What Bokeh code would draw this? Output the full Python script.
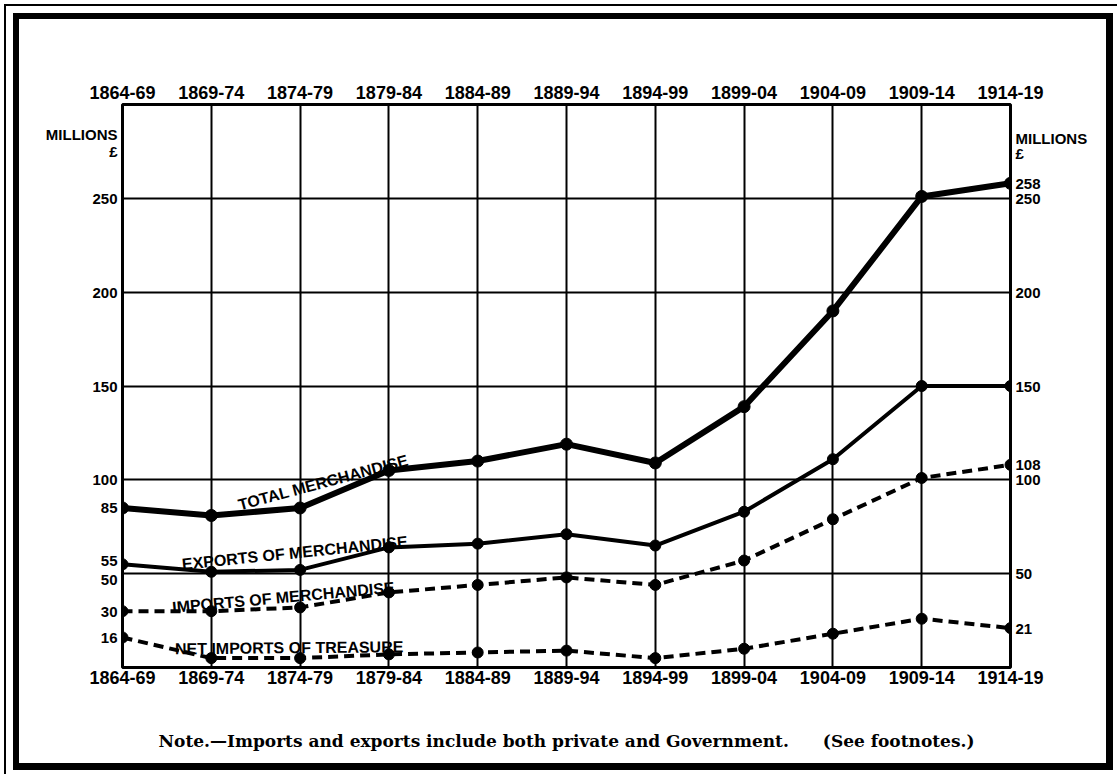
from bokeh.plotting import figure
from bokeh.models import Range1d, LinearAxis, FixedTicker, Label, ColumnDataSource
from bokeh.embed import file_html
from bokeh.resources import INLINE

periods = ["1864-69", "1869-74", "1874-79", "1879-84", "1884-89", "1889-94",
           "1894-99", "1899-04", "1904-09", "1909-14", "1914-19"]
total_merch = [85, 81, 85, 105, 110, 119, 109, 139, 190, 251, 258]
exports_merch = [55, 51, 52, 64, 66, 71, 65, 83, 111, 150, 150]
imports_merch = [30, 30, 32, 40, 44, 48, 44, 57, 79, 101, 108]
net_treasure = [16, 5, 5, 7, 8, 9, 5, 10, 18, 26, 21]
grid_values = [50, 100, 150, 200, 250]
# left scale: value labels (50 and 55 are printed slightly apart in the original)
left_tick_values = [16, 30, 47, 57, 85, 100, 150, 200, 250, 284, 275]
left_tick_labels = ["16", "30", "50", "55", "85", "100", "150", "200", "250", "MILLIONS", "\u00a3"]
right_tick_values = [21, 50, 100, 108, 150, 200, 250, 258, 282, 274]
right_tick_labels = ["21", "50", "100", "108", "150", "200", "250", "258", "MILLIONS", "\u00a3"]
series_names = ["TOTAL MERCHANDISE", "EXPORTS OF MERCHANDISE",
                "IMPORTS OF MERCHANDISE", "NET IMPORTS OF TREASURE"]
note_text = "Note.\u2014Imports and exports include both private and Government.\u2003\u2003(See footnotes.)"

x_idx = list(range(len(periods)))
src = ColumnDataSource(dict(x=x_idx, total=total_merch, exports=exports_merch,
                            imports=imports_merch, treasure=net_treasure))

FONT = "Liberation Sans"

p = figure(width=1117, height=774, output_backend="svg", toolbar_location=None,
           x_range=Range1d(0, len(periods) - 1), y_range=Range1d(0, 300),
           min_border_left=122, min_border_right=107, min_border_top=104, min_border_bottom=107,
           background_fill_color="white", border_fill_color=None)

# outer printed frame, drawn by CSS around the figure
p.styles = {"box-shadow": ("inset 2px 2px 0 2px white, inset 3px 3px 0 3px black, "
                           "inset 4.5px 4.5px 0 8.5px white, inset 4px 4px 0 15px black"),
            "background-color": "white"}

p.outline_line_color = "black"
p.outline_line_width = 3

# grids
p.xgrid.ticker = FixedTicker(ticks=x_idx)
p.ygrid.ticker = FixedTicker(ticks=grid_values)
for g in (p.xgrid, p.ygrid):
    g.grid_line_color = "black"
    g.grid_line_width = 2
    g.grid_line_alpha = 1.0

label_map = {i: s for i, s in enumerate(periods)}


def style_axis(ax, size, standoff):
    ax.axis_line_color = None
    ax.major_tick_line_color = None
    ax.minor_tick_line_color = None
    ax.major_tick_out = 0
    ax.major_tick_in = 0
    ax.minor_tick_out = 0
    ax.minor_tick_in = 0
    ax.major_label_text_font = FONT
    ax.major_label_text_font_style = "bold"
    ax.major_label_text_font_size = size
    ax.major_label_text_color = "black"
    ax.major_label_standoff = standoff


# bottom axis, with the note as its axis label
p.xaxis.ticker = FixedTicker(ticks=x_idx)
p.xaxis.major_label_overrides = label_map
style_axis(p.xaxis[0], "18px", 3)
p.xaxis.axis_label = note_text
p.xaxis.axis_label_text_font = "DejaVu Serif"
p.xaxis.axis_label_text_font_style = "bold"
p.xaxis.axis_label_text_font_size = "17px"
p.xaxis.axis_label_text_color = "black"
p.xaxis.axis_label_standoff = 44

# top axis
top_ax = LinearAxis(ticker=FixedTicker(ticks=x_idx), major_label_overrides=label_map)
style_axis(top_ax, "18px", 6)
p.add_layout(top_ax, "above")

# left axis
p.yaxis.ticker = FixedTicker(ticks=left_tick_values)
p.yaxis.major_label_overrides = dict(zip(left_tick_values, left_tick_labels))
style_axis(p.yaxis[0], "15px", 5)

# right axis
right_ax = LinearAxis(ticker=FixedTicker(ticks=right_tick_values),
                      major_label_overrides=dict(zip(right_tick_values, right_tick_labels)))
style_axis(right_ax, "15px", 5)
p.add_layout(right_ax, "right")

# series
p.line("x", "total", source=src, line_color="black", line_width=6)
p.scatter("x", "total", source=src, size=12, color="black")
p.line("x", "exports", source=src, line_color="black", line_width=4)
p.scatter("x", "exports", source=src, size=11, color="black")
p.line("x", "imports", source=src, line_color="black", line_width=4, line_dash="10 6")
p.scatter("x", "imports", source=src, size=11, color="black")
p.line("x", "treasure", source=src, line_color="black", line_width=4, line_dash="10 6")
p.scatter("x", "treasure", source=src, size=11, color="black")

# series names written along the lines
name_pos = [(1.306, 86.5, 15), (0.67, 55.0, 5.8), (0.56, 32.0, 5.2), (0.59, 10.0, 0.5)]
for name, (lx, ly, ang) in zip(series_names, name_pos):
    p.add_layout(Label(x=lx, y=ly, text=name, angle=ang, angle_units="deg",
                       text_font=FONT, text_font_style="bold", text_font_size="16px",
                       text_align="left", text_baseline="alphabetic", text_color="black"))

open("out.html", "w").write(file_html(p, INLINE))
